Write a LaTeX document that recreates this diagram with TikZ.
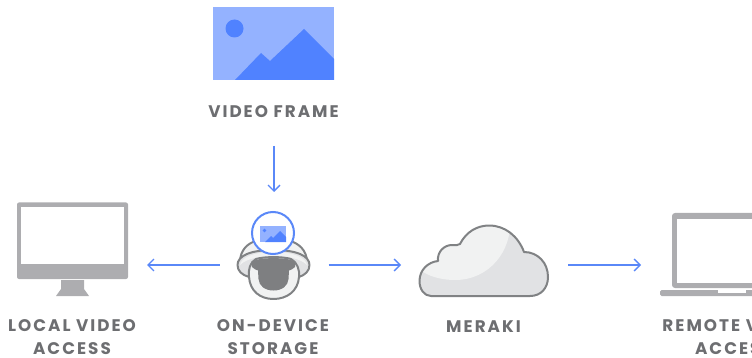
\documentclass[tikz,border=0pt]{standalone}
\usepackage{fontspec}
\usetikzlibrary{arrows.meta}
\newfontfamily\lab[LetterSpace=12]{Poppins}
\definecolor{blu}{HTML}{5A88F8}
\definecolor{blulight}{HTML}{94B2FF}
\definecolor{blumid}{HTML}{5082FF}
\definecolor{devgray}{HTML}{ADADB0}
\definecolor{outl}{HTML}{808284}
\definecolor{lensgray}{HTML}{7E7F81}
\definecolor{pale}{HTML}{F1F2F2}
\definecolor{paledark}{HTML}{E1E2E4}
\definecolor{txt}{HTML}{6D6E71}
\tikzset{
  lbl/.style={font=\lab\bfseries\fontsize{16.8}{23}\selectfont,text=txt,align=center,inner sep=0pt,anchor=center},
  flow/.style={draw=blu,line width=1.5pt,-{Straight Barb[length=6pt,width=12pt,line width=1.3pt]}},
  zone/.style={inner sep=0pt,outer sep=0pt,draw=none},
  outlined/.style={draw=outl,line width=2pt,line join=round}
}
\begin{document}
\begin{tikzpicture}[x=1pt,y=-1pt]
\useasboundingbox (0,0) rectangle (752,358);
\clip (0,0) rectangle (752,358);
% invisible zones the connectors run between
\node[zone,minimum width=121pt,minimum height=139pt] (frame) at (274,76.5) {};
\node[zone,minimum width=109pt,minimum height=146pt] (camera) at (274,265) {};
\node[zone,minimum width=130pt,minimum height=100pt] (monitor) at (82,265) {};
\node[zone,minimum width=167pt,minimum height=80pt] (cloud) at (484.5,265) {};
\node[zone,minimum width=120pt,minimum height=100pt] (laptop) at (701,265) {};
% video frame
\fill[blulight] (213,7) rectangle (334,80);
\fill[blumid] (234.5,28.5) circle (9);
\fill[blumid] (235,80) -- (261,53) -- (270,61) -- (304,29) -- (334,59) -- (334,80) -- cycle;
% monitor
\fill[devgray,rounded corners=2pt] (17,202.5) rectangle (128,279);
\fill[white] (21,207) rectangle (124,264);
\fill[devgray] (61,280) -- (84,280) -- (84,289) -- (89,296) -- (56,296) -- (61,289) -- cycle;
% camera
\path[fill=pale,outlined] (240,262) .. controls (240,250) and (248,243) .. (256,241)
  -- (290,241) .. controls (298,243) and (307,250) .. (307,262) -- cycle;
% ring
\path[fill=paledark,outlined] (237.5,265) .. controls (237.5,256) and (250,250) .. (273.5,250)
  .. controls (297,250) and (309.5,256) .. (309.5,265)
  .. controls (309.5,271) and (305,275) .. (299,277)
  -- (249,277) .. controls (242,275) and (237.5,271) .. (237.5,265) -- cycle;
\fill[pale] (240,265) .. controls (241,258) and (252,252) .. (273.5,252)
  .. controls (295,252) and (306,258) .. (307,265)
  .. controls (300,258) and (285,256) .. (273.5,256)
  .. controls (262,256) and (247,258) .. (240,265) -- cycle;
% shell
\path[fill=pale,outlined] (249,277) .. controls (248,270) and (250,262) .. (256,259)
  .. controls (264,256.5) and (283,256.5) .. (291,259)
  .. controls (297,262) and (300,270) .. (299,277)
  .. controls (298,291) and (287,299) .. (273.5,299)
  .. controls (260,299) and (250,291) .. (249,277) -- cycle;
% lens
\fill[lensgray] (252,267) .. controls (251,263) and (253,261) .. (256,260)
  .. controls (264,257.5) and (283,257.5) .. (291,260)
  .. controls (294,261) and (296,263) .. (295,267)
  .. controls (293,269) and (291,270) .. (289,270.5)
  -- (288.5,279) .. controls (288,286) and (282,290.5) .. (273.5,290.5)
  .. controls (265,290.5) and (259,286) .. (258.5,279)
  -- (258,270.5) .. controls (256,270) and (254,269) .. (252,267) -- cycle;
\path[fill=white,draw=blu,line width=2pt] (273,233) circle (21);
\fill[blulight] (260,226) rectangle (286,242);
\fill[blumid] (264.5,230.5) circle (1.8);
\fill[blumid] (265,242) -- (271,236) -- (273,238) -- (280,231) -- (286,237) -- (286,242) -- cycle;
% cloud
\def\cloudpath{(431,296) .. controls (424,296) and (419.5,289) .. (419.5,281)
  .. controls (419.5,270) and (428,262) .. (438,261)
  .. controls (437,252) and (444,245) .. (452,245)
  .. controls (455,245) and (458,246) .. (460,244)
  .. controls (466,232) and (477,225.5) .. (489,225.5)
  .. controls (505,225.5) and (518,236) .. (524,252)
  .. controls (538,252) and (548,263) .. (548,277)
  .. controls (548,288) and (541,296) .. (530,296) -- cycle}
\fill[paledark] \cloudpath;
\begin{scope}
\clip \cloudpath;
\fill[pale] (415,260) -- (423,272) .. controls (433,278) and (445,280) .. (455,280)
  .. controls (490,280) and (512,250) .. (510,220) -- (415,220) -- cycle;
\end{scope}
\draw[outlined] \cloudpath;
% laptop
\fill[devgray,rounded corners=3pt] (672,213) rectangle (780,288);
\fill[white] (677,219) rectangle (780,283);
\fill[devgray,rounded corners=1.5pt] (660,290) rectangle (780,296);
\fill[white] (718,290) rectangle (746,293);
% labels
\node[lbl] (tframe) at (273.5,112) {VIDEO FRAME};
\node[lbl] (tlocal) at (72,337.5) {LOCAL VIDEO\\ACCESS};
\node[lbl] (tstore) at (273,337.5) {ON-DEVICE\\STORAGE};
\node[lbl] (tmeraki) at (483.5,326.5) {MERAKI};
\node[lbl] (tremote) at (734,337.5) {REMOTE VIDEO\\ACCESS};
% connectors
\draw[flow] (frame.south) -- (camera.north);
\draw[flow] (camera.west) -- (monitor.east);
\draw[flow] (camera.east) -- (cloud.west);
\draw[flow] (cloud.east) -- (laptop.west);
\end{tikzpicture}
\end{document}
